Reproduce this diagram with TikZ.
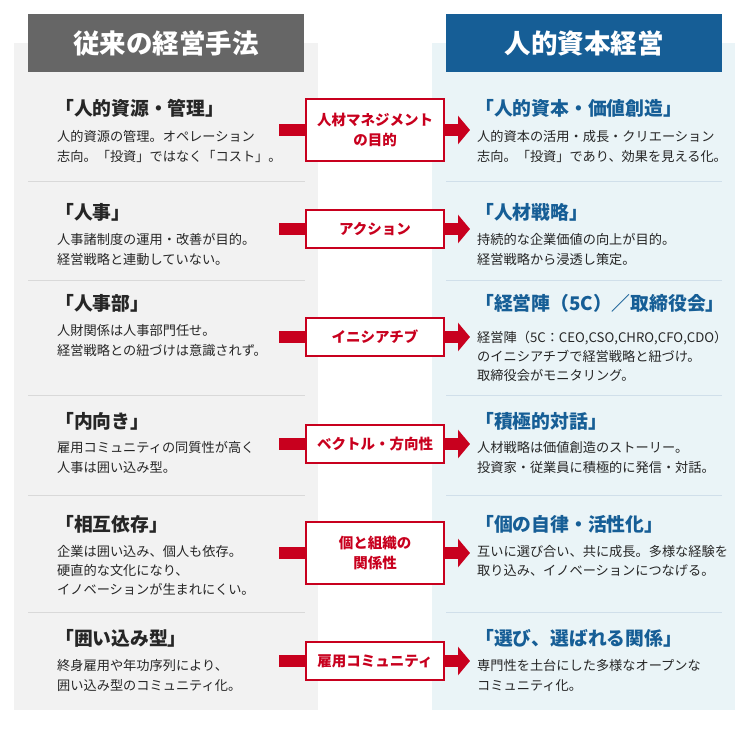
\documentclass[tikz,border=0pt]{standalone}
\usepackage{fontspec}
\setmainfont{Noto Sans CJK JP}
\usetikzlibrary{arrows.meta,positioning}
\definecolor{hrred}{HTML}{C8001E}
\definecolor{hrgray}{HTML}{666666}
\definecolor{hrblue}{HTML}{165E96}
\definecolor{leftbg}{HTML}{F2F2F2}
\definecolor{rightbg}{HTML}{EAF4F7}
\tikzset{
	head/.style={minimum width=276pt,minimum height=58pt,inner sep=0,text=white,font=\fontsize{26.5}{28}\selectfont\bfseries},
	ttl/.style={anchor=west,inner sep=0,font=\fontsize{18.8}{20}\selectfont\bfseries},
	ltitle/.style={ttl,text=black!85},
	rtitle/.style={ttl,text=hrblue},
	body/.style={anchor=north west,inner sep=0,align=left,text=black!85,font=\fontsize{13.2}{20.5}\selectfont},
	mid/.style={draw=hrred,line width=2pt,fill=white,text=hrred,minimum width=138pt,inner sep=3pt,align=center,font=\fontsize{14.5}{20}\selectfont\bfseries},
	bar/.style={hrred,line width=12pt},
	redarrow/.style={hrred,line width=12pt,-{Triangle[length=12pt,width=28pt]}},
	lsep/.style={draw=black!15,line width=.8pt},
	rsep/.style={draw=hrblue!20,line width=.8pt}
}
\begin{document}
\begin{tikzpicture}[x=1pt,y=-1pt]
	\useasboundingbox (0,0) rectangle (750,729);
	% panels
	\fill[leftbg] (14,43) rectangle (318,710);
	\fill[rightbg] (432,43) rectangle (735,710);
	\node[head,fill=hrgray,anchor=north west] (lhead) at (28,14) {従来の経営手法};
	\node[head,fill=hrblue,anchor=north west] (rhead) at (446,14) {人的資本経営};
	% separators
	\foreach \y in {181,280,395,495,612}{
		\draw[lsep] (28,\y) -- (305,\y);
		\draw[rsep] (446,\y) -- (722,\y);
	}

	%%%% row 1
	\node[ltitle] (l1) at (55,108) {「人的資源・管理」};
	\node[body] (lb1) at (57,130) {人的資源の管理。オペレーション\\志向。「投資」ではなく「コスト」。};
	\node[rtitle] (r1) at (475,108) {「人的資本・価値創造」};
	\node[body] (rb1) at (477,130) {人的資本の活用・成長・クリエーション\\志向。「投資」であり、効果を見える化。};
	\node[mid,minimum height=62pt] (m1) at (375,130) {人材マネジメント\\の目的};

	%%%% row 2
	\node[ltitle] (l2) at (55,212) {「人事」};
	\node[body] (lb2) at (57,233) {人事諸制度の運用・改善が目的。\\経営戦略と連動していない。};
	\node[rtitle] (r2) at (475,212) {「人材戦略」};
	\node[body] (rb2) at (477,233) {持続的な企業価値の向上が目的。\\経営戦略から浸透し策定。};
	\node[mid,minimum height=38pt] (m2) at (375,229) {アクション};

	%%%% row 3
	\node[ltitle] (l3) at (55,303) {「人事部」};
	\node[body] (lb3) at (57,324) {人財関係は人事部門任せ。\\経営戦略との紐づけは意識されず。};
	\node[rtitle] (r3) at (475,303) {「経営陣（5C）／取締役会」};
	\node[body,font=\fontsize{13.2}{19}\selectfont] (rb3) at (477,331) {経営陣（5C：CEO,CSO,CHRO,CFO,CDO）\\のイニシアチブで経営戦略と紐づけ。\\取締役会がモニタリング。};
	\node[mid,minimum height=38pt] (m3) at (375,337) {イニシアチブ};

	%%%% row 4
	\node[ltitle] (l4) at (55,421) {「内向き」};
	\node[body] (lb4) at (57,441) {雇用コミュニティの同質性が高く\\人事は囲い込み型。};
	\node[rtitle] (r4) at (475,421) {「積極的対話」};
	\node[body] (rb4) at (477,441) {人材戦略は価値創造のストーリー。\\投資家・従業員に積極的に発信・対話。};
	\node[mid,minimum height=38pt] (m4) at (375,444) {ベクトル・方向性};

	%%%% row 5
	\node[ltitle] (l5) at (55,524) {「相互依存」};
	\node[body,font=\fontsize{13.2}{19}\selectfont] (lb5) at (57,545) {企業は囲い込み、個人も依存。\\硬直的な文化になり、\\イノベーションが生まれにくい。};
	\node[rtitle] (r5) at (475,524) {「個の自律・活性化」};
	\node[body,font=\fontsize{13.2}{19}\selectfont] (rb5) at (477,545) {互いに選び合い、共に成長。多様な経験を\\取り込み、イノベーションにつなげる。};
	\node[mid,minimum height=62pt] (m5) at (375,553) {個と組織の\\関係性};

	%%%% row 6
	\node[ltitle] (l6) at (55,638) {「囲い込み型」};
	\node[body] (lb6) at (57,659) {終身雇用や年功序列により、\\囲い込み型のコミュニティ化。};
	\node[rtitle] (r6) at (475,638) {「選び、選ばれる関係」};
	\node[body] (rb6) at (477,659) {専門性を土台にした多様なオープンな\\コミュニティ化。};
	\node[mid,minimum height=38pt] (m6) at (375,661) {雇用コミュニティ};

	% arrows
	\foreach \m in {m1,m2,m3,m4,m5,m6}{
		\draw[bar] (\m.west) ++(-26,0) -- (\m.west);
		\draw[redarrow] (\m.east) -- ++(25,0);
	}
\end{tikzpicture}
\end{document}
